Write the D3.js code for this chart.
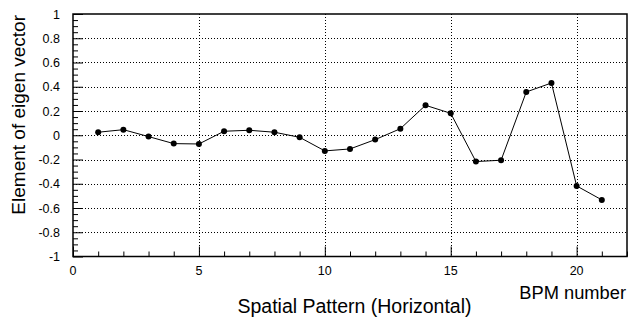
<!DOCTYPE html>
<html>
<head>
<meta charset="utf-8">
<script src="https://cdn.jsdelivr.net/npm/d3@7"></script>
<style>
  body { margin: 0; background: #fff; }
  svg { display: block; font-family: "Liberation Sans", Arial, Helvetica, sans-serif; }
</style>
</head>
<body>
<div id="chart"></div>
<script>
// BPM numbers and eigen vector elements
const bpm = [1, 2, 3, 4, 5, 6, 7, 8, 9, 10, 11, 12, 13, 14, 15, 16, 17, 18, 19, 20, 21];
const element = [0.025, 0.046, -0.011, -0.069, -0.072, 0.033, 0.041, 0.025, -0.017, -0.129,
  -0.113, -0.036, 0.054, 0.247, 0.181, -0.217, -0.206, 0.357, 0.431, -0.418, -0.533];
const xTicks = [0, 5, 10, 15, 20];
const yTicks = [-1, -0.8, -0.6, -0.4, -0.2, 0, 0.2, 0.4, 0.6, 0.8, 1];

const width = 629, height = 318;
const plotL = 73, plotR = 627, plotT = 14, plotB = 256.5;

const svg = d3.select('#chart').append('svg')
  .attr('width', width)
  .attr('height', height);

const x = d3.scaleLinear().domain([0, 22]).range([plotL, plotR]);
const y = d3.scaleLinear().domain([-1, 1]).range([plotB, plotT]);

// grid (dotted)
const grid = svg.append('g')
  .attr('stroke', '#000')
  .attr('stroke-width', 1)
  .attr('stroke-dasharray', '1,2');
grid.selectAll('line.gx')
  .data(xTicks.filter(d => d > 0))
  .enter().append('line')
  .attr('x1', d => Math.round(x(d)) + 0.5).attr('x2', d => Math.round(x(d)) + 0.5)
  .attr('y1', plotT).attr('y2', plotB);
grid.selectAll('line.gy')
  .data(yTicks.filter(d => d > -1 && d < 1))
  .enter().append('line')
  .attr('y1', d => Math.round(y(d)) + 0.5).attr('y2', d => Math.round(y(d)) + 0.5)
  .attr('x1', plotL).attr('x2', plotR);

// y axis: ticks pointing inward
const yAxis = svg.append('g').attr('transform', `translate(${plotL},0)`);
yAxis.call(d3.axisRight(y).tickValues(d3.range(-1, 1.001, 0.05)).tickSize(5).tickFormat(''));
yAxis.call(g => g.selectAll('.tick').filter(d => Math.abs(Math.round(d * 5) - d * 5) < 1e-6)
  .select('line').attr('x2', 10));
yAxis.select('.domain').remove();

svg.append('g').selectAll('text')
  .data(yTicks)
  .enter().append('text')
  .attr('x', 60)
  .attr('y', d => y(d) + 4.5)
  .attr('text-anchor', 'end')
  .attr('font-size', '12.5px')
  .text(d => String(+d.toFixed(1)));

// x axis: ticks pointing inward
const xAxis = svg.append('g').attr('transform', `translate(0,${plotB})`);
xAxis.call(d3.axisTop(x).tickValues(d3.range(0, 23, 1)).tickSize(5).tickFormat(''));
xAxis.call(g => g.selectAll('.tick').filter(d => d % 5 === 0)
  .select('line').attr('y2', -10));
xAxis.select('.domain').remove();

svg.append('g').selectAll('text')
  .data(xTicks)
  .enter().append('text')
  .attr('x', d => x(d))
  .attr('y', 275)
  .attr('text-anchor', 'middle')
  .attr('font-size', '12.5px')
  .text(d => d);

// frame
svg.append('rect')
  .attr('x', plotL).attr('y', plotT)
  .attr('width', plotR - plotL).attr('height', plotB - plotT)
  .attr('fill', 'none')
  .attr('stroke', '#000')
  .attr('stroke-width', 1.5);

// series
const pts = bpm.map((b, i) => [b, element[i]]);
svg.append('path')
  .datum(pts)
  .attr('fill', 'none')
  .attr('stroke', '#000')
  .attr('stroke-width', 1)
  .attr('d', d3.line().x(d => x(d[0])).y(d => y(d[1])));

svg.selectAll('circle.pt')
  .data(pts)
  .enter().append('circle')
  .attr('class', 'pt')
  .attr('cx', d => x(d[0]))
  .attr('cy', d => y(d[1]))
  .attr('r', 3)
  .attr('fill', '#000');

// titles
svg.append('text')
  .attr('transform', 'translate(25,15) rotate(-90)')
  .attr('text-anchor', 'end')
  .attr('font-size', '19px')
  .text('Element of eigen vector');

svg.append('text')
  .attr('x', 626)
  .attr('y', 299)
  .attr('text-anchor', 'end')
  .attr('font-size', '18.3px')
  .text('BPM number');

svg.append('text')
  .attr('x', 354.5)
  .attr('y', 313)
  .attr('text-anchor', 'middle')
  .attr('font-size', '19.5px')
  .text('Spatial Pattern (Horizontal)');
</script>
</body>
</html>
